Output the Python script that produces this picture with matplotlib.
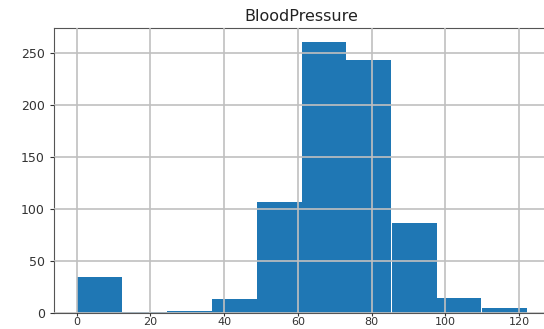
import numpy as np
import matplotlib
matplotlib.use("Agg")
import matplotlib.pyplot as plt

# BloodPressure histogram (10 bins over 0..122)
bin_edges = np.linspace(0, 122, 11)
counts = [35, 1, 2, 13, 107, 261, 243, 87, 14, 5]

fig = plt.figure(figsize=(5.44, 3.29), dpi=100)
# axes run slightly past the right edge, as in the cropped original
ax = fig.add_axes([54 / 544, 16 / 329, 495 / 544, 285 / 329])

ax.hist(bin_edges[:-1], bins=bin_edges, weights=counts, color="#1f77b4")
ax.set_title("BloodPressure", fontsize=11.5, color="#222222", pad=5)
ax.grid(True, color="#c0c0c0", linewidth=1.2)
ax.set_axisbelow(False)
ax.set_xticks([0, 20, 40, 60, 80, 100, 120])
ax.set_yticks([0, 50, 100, 150, 200, 250])
ax.tick_params(labelsize=9, colors="#333333", length=3)
ax.tick_params(axis="x", pad=0.5, length=2.5, labelsize=8)
for s in ax.spines.values():
    s.set_color("#555555")

fig.savefig("out.png", dpi=100)
